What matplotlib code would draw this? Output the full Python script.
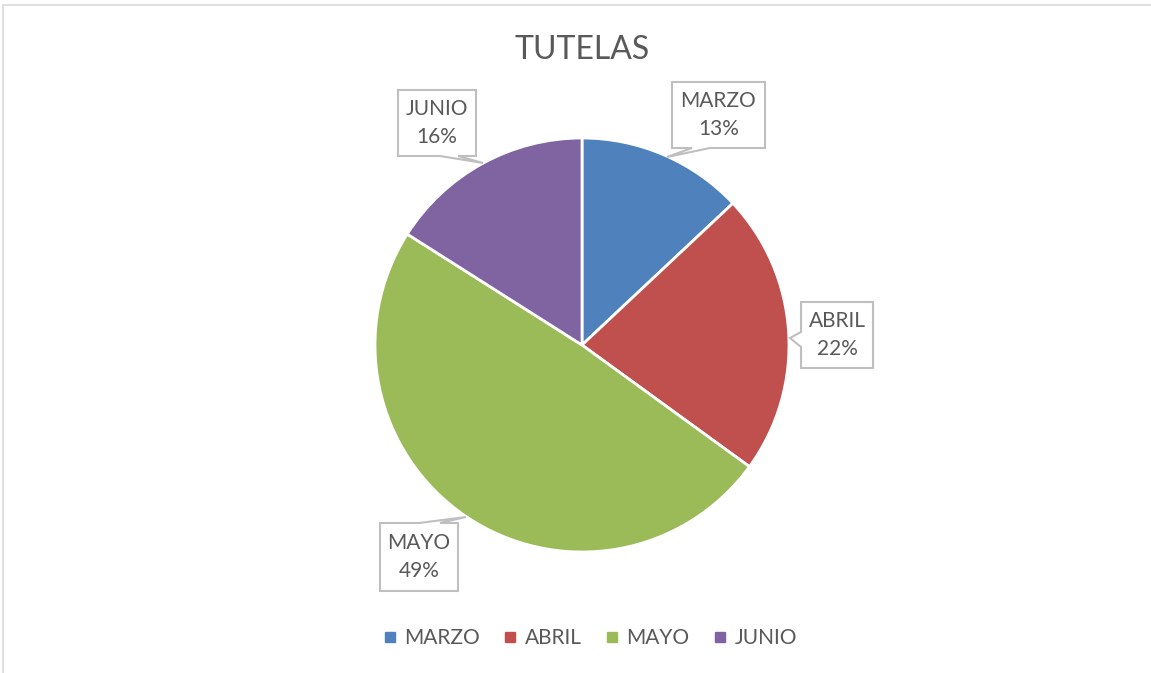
import matplotlib.pyplot as plt
import numpy as np
from matplotlib.patches import Polygon, Rectangle
from matplotlib.lines import Line2D

plt.rcParams['font.family'] = ['Lato', 'DejaVu Sans']

months = ['MARZO', 'ABRIL', 'MAYO', 'JUNIO']
shares = [13, 22, 49, 16]
colors = ['#4F81BD', '#C0504D', '#9BBB59', '#8064A2']

W, H = 1151, 673
fig = plt.figure(figsize=(W / 100, H / 100), dpi=100)
ax = fig.add_axes([0, 0, 1, 1])

# chart frame
ax.add_patch(Rectangle((3, -10), W + 10, H - 5 + 10, fill=False, edgecolor='#D9D9D9', lw=1.2))

ax.pie(shares, colors=colors, startangle=90, counterclock=False,
       center=(582, H - 345), radius=207, frame=True,
       wedgeprops=dict(edgecolor='white', linewidth=2))
ax.set_xlim(0, W)
ax.set_ylim(0, H)
ax.set_aspect('equal')
ax.axis('off')

ax.text(582, H - 50, 'TUTELAS', ha='center', va='center', fontsize=23, color='#595959')

# callout boxes (pixel coords, y from top): box x0,x1,y0,y1, tail vertices
callouts = {
    'MARZO': ((672, 765, 82, 148), [(765, 148), (710, 148), (667, 157), (692, 148), (672, 148)]),
    'ABRIL': ((801, 873, 302, 368), [(801, 368), (801, 347), (790, 338), (801, 332), (801, 302)]),
    'MAYO': ((380, 458, 523, 591), None),
    'JUNIO': ((398, 476, 90, 156), [(476, 156), (458, 156), (483, 163), (440, 156), (398, 156)]),
}


def outline(box, tail, side):
    x0, x1, y0, y1 = box
    if side == 'bottom':
        pts = [(x0, y0), (x1, y0)] + tail
    elif side == 'left':
        pts = [(x0, y0), (x1, y0), (x1, y1)] + tail
    else:  # top
        pts = [(x0, y1), (x0, y0), (419, y0), (466, 517), (440, y0), (x1, y0), (x1, y1)]
    return [(x, H - y) for x, y in pts]


sides = {'MARZO': 'bottom', 'ABRIL': 'left', 'MAYO': 'top', 'JUNIO': 'bottom'}
for m, s in zip(months, shares):
    box, tail = callouts[m]
    pts = outline(box, tail, sides[m])
    ax.add_patch(Polygon(pts, closed=True, facecolor='white', edgecolor='#BFBFBF', lw=1.5, zorder=5))
    x0, x1, y0, y1 = box
    ax.text((x0 + x1) / 2, H - (y0 + y1) / 2, f'{m}\n{s}%', ha='center', va='center',
            fontsize=15, color='#595959', linespacing=1.55, zorder=6)

handles = [Line2D([], [], marker='s', ls='', color=c, markersize=7) for c in colors]
fig.legend(handles, months, loc='center', bbox_to_anchor=(588 / W, 1 - 638 / H), ncol=4,
           frameon=False, fontsize=15, labelcolor='#595959', handletextpad=0.2,
           columnspacing=0.95, handlelength=1)

fig.savefig('out.png', dpi=100)
